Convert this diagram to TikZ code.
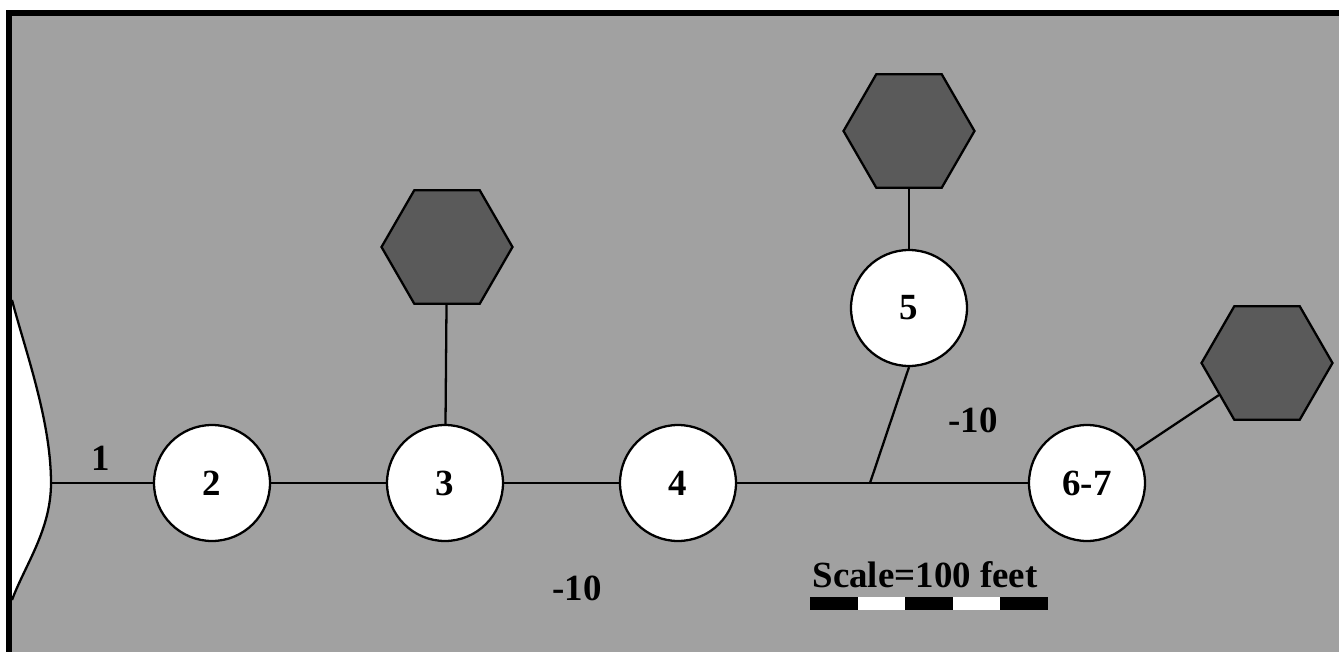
\documentclass[tikz,border=0pt]{standalone}
\usepackage{fontspec}
\setmainfont{Liberation Serif}
\usepackage{tikz}
\usetikzlibrary{shapes.geometric}
\definecolor{ground}{RGB}{161,161,161}
\definecolor{tank}{RGB}{90,90,90}

\begin{document}
\begin{tikzpicture}[x=0.02cm,y=-0.02cm,
  line width=1.3pt,
  every node/.style={font=\fontsize{21}{25}\selectfont\bfseries},
  station/.style={shape=circle,minimum size=2.32cm,inner sep=0pt,draw,fill=white},
  hexa/.style={shape=regular polygon,regular polygon sides=6,minimum size=2.62cm,inner sep=0pt,draw,fill=tank}]
\useasboundingbox (0,0) rectangle (1339,652);
% background and frame
\fill [ground] (12,16) rectangle (1339,652);
\draw [line width=3.4pt] (9,652) -- (9,13) -- (1339,13);
\filldraw [fill=white] (12,300) .. controls (25,350) and (51,420) .. (51,483)
  .. controls (51,530) and (25,565) .. (12,600);
\coordinate (shore) at (51,483);
\coordinate (jn) at (870,483);

\path (212,483) node (c2) [station] {2};
\path (445,483) node (c3) [station] {3};
\path (678,483) node (c4) [station] {4};
\path (909,308) node (c5) [station] {5};
\path (1087,483) node (c67) [station] {6-7};
\path (447,247) node (h3) [hexa] {};
\path (909,131) node (h5) [hexa] {};
\path (1267,363) node (h67) [hexa] {};

\draw (shore) to (c2);
\draw (c2) to (c3);
\draw (c3) to (c4);
\draw (c4) to (c67);
\draw (jn) to (c5.south);
\draw (h3) to (c3);
\draw (h5) to (c5);
\draw (h67) to (c67);

\path (101,458) node (lone) {1};
\path (973,420) node (lten) {-10};
\path (577,588) node (ltenb) {-10};
\path (925,575) node (lscale) {Scale=100 feet};
% scale bar
\foreach \i/\c in {0/black,1/white,2/black,3/white,4/black}
  \fill [\c] (810+\i*47.6,597) rectangle (810+\i*47.6+47.6,610);
\end{tikzpicture}
\end{document}
